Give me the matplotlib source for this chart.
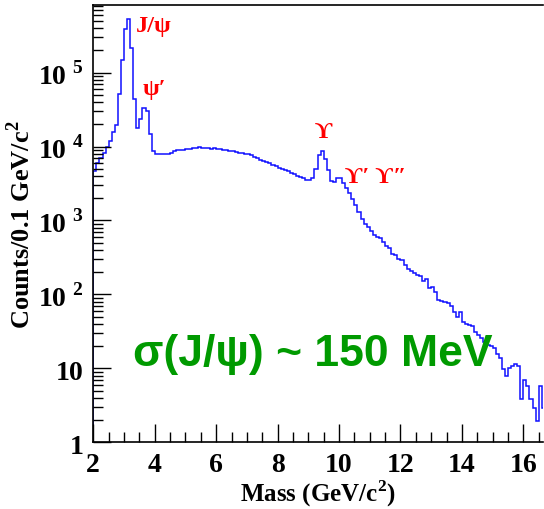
import numpy as np
import matplotlib
matplotlib.use("Agg")
import matplotlib.pyplot as plt
from matplotlib.ticker import FixedLocator, MultipleLocator, NullFormatter

plt.rcParams['mathtext.fontset'] = 'custom'
plt.rcParams['mathtext.rm'] = 'Liberation Serif'
plt.rcParams['mathtext.bf'] = 'Liberation Serif:bold'

mass_min = 2.0
bin_width = 0.1
counts = [
    4730, 6010, 6970, 8220, 9820, 12060, 15660, 19670, 50580, 145900,   # 2.0-2.9
    391600, 523300, 214400, 44200, 17900, 23700, 33000, 29800, 14860, 8830,  # 3.0-3.9
    7960, 7900, 7900, 7950, 8000, 8300, 8700, 8940, 8940, 9100,  # 4.0-4.9
    9300, 9400, 9500, 9600, 9700, 9600, 9500, 9450, 9400, 9500,  # 5.0-5.9
    9400, 9300, 9100, 8900, 8800, 8600, 8450, 8300, 8150, 8000,  # 6.0-6.9
    7800, 7600, 7300, 7000, 6600, 6400, 6200, 5900, 5650, 5400,  # 7.0-7.9
    5150, 5000, 4800, 4600, 4400, 4250, 4050, 3900, 3700, 3550,  # 8.0-8.9
    3500, 3700, 5000, 7700, 8800, 6800, 4800, 3450, 3350, 3750,  # 9.0-9.9
    3750, 3250, 2750, 2350, 1950, 1600, 1300, 1050, 900, 810,    # 10.0-10.9
    720, 640, 594, 576, 508, 457, 421, 353, 342, 302,            # 11.0-11.9
    296, 253, 221, 210, 195, 184, 180, 154, 162, 121,            # 12.0-12.9
    125, 107, 85, 82, 78, 77, 70, 57, 50, 58,                    # 13.0-13.9
    42, 40, 38, 37, 31, 28, 26, 22.5, 21, 20,                    # 14.0-14.9
    19, 15.7, 14, 9.8, 7.8, 10, 10.7, 11.5, 10.7, 3.9,           # 15.0-15.9
    7.0, 5.8, 3.9, 2.9, 1.96, 5.8, 2.9,                          # 16.0-16.6
]
x_ticks = [2, 4, 6, 8, 10, 12, 14, 16]
y_ticks = [1, 10, 100, 1000, 10000, 100000]
y_ticklabels = [r'$\mathbf{1}$', r'$\mathbf{10}$', r'$\mathbf{10}^{\ \mathbf{2}}$',
                r'$\mathbf{10}^{\ \mathbf{3}}$', r'$\mathbf{10}^{\ \mathbf{4}}$',
                r'$\mathbf{10}^{\ \mathbf{5}}$']
peak_labels = ["J/ψ", "ψ′", "ϒ", "ϒ′ ϒ″"]
peak_pos = [(3.96, 4.3e5), (4.0, 6.0e4), (9.5, 1.58e4), (11.19, 3950)]
annotation = "σ(J/ψ) ~ 150 MeV"

counts = np.array(counts, dtype=float)
edges = mass_min + bin_width * np.arange(len(counts) + 1)

fig = plt.figure(figsize=(5.44, 5.10), dpi=100)
ax = fig.add_axes([93.3 / 544, 1 - 443.3 / 510, 450 / 544, 437.3 / 510])

ax.stairs(counts, edges, baseline=0.5, color='#1010ff', lw=1.1)
ax.set_yscale('log')
ax.set_xlim(2, 16.65)
ax.set_ylim(1, 8.2e5)

serif = ['Liberation Serif', 'DejaVu Serif']
ax.xaxis.set_major_locator(FixedLocator(x_ticks))
ax.xaxis.set_minor_locator(MultipleLocator(0.5))
ax.set_xticklabels([str(t) for t in x_ticks], fontfamily=serif, fontweight='bold', fontsize=20)
ax.yaxis.set_major_locator(FixedLocator(y_ticks))
ax.set_yticklabels(y_ticklabels, fontsize=20)
ax.yaxis.set_minor_formatter(NullFormatter())

ax.tick_params(which='major', direction='in', length=13, width=1, top=False, right=False, pad=7)
ax.tick_params(which='minor', direction='in', length=7, width=1, top=False, right=False)
ax.spines['right'].set_visible(False)
for s in ['left', 'bottom', 'top']:
    ax.spines[s].set_linewidth(1.2)

ax.set_xlabel('Mass (GeV/c$^{\\mathbf{2}}$)', fontfamily=serif, fontweight='bold', fontsize=18, labelpad=0)
ax.set_ylabel('Counts/0.1 GeV/c$^{\\mathbf{2}}$', fontfamily=serif, fontweight='bold', fontsize=19, labelpad=2)

for lab, (px, py) in zip(peak_labels, peak_pos):
    ax.text(px, py, lab, color='#ff0000', fontsize=17.5, fontweight='bold',
            fontfamily=serif, ha='center', va='center')

ax.text(0.488, 0.202, annotation, transform=ax.transAxes, color='#009a00',
        fontsize=32, fontweight='bold', fontfamily=['Liberation Sans', 'DejaVu Sans'],
        ha='center', va='center')

fig.savefig('out.png', dpi=100)
